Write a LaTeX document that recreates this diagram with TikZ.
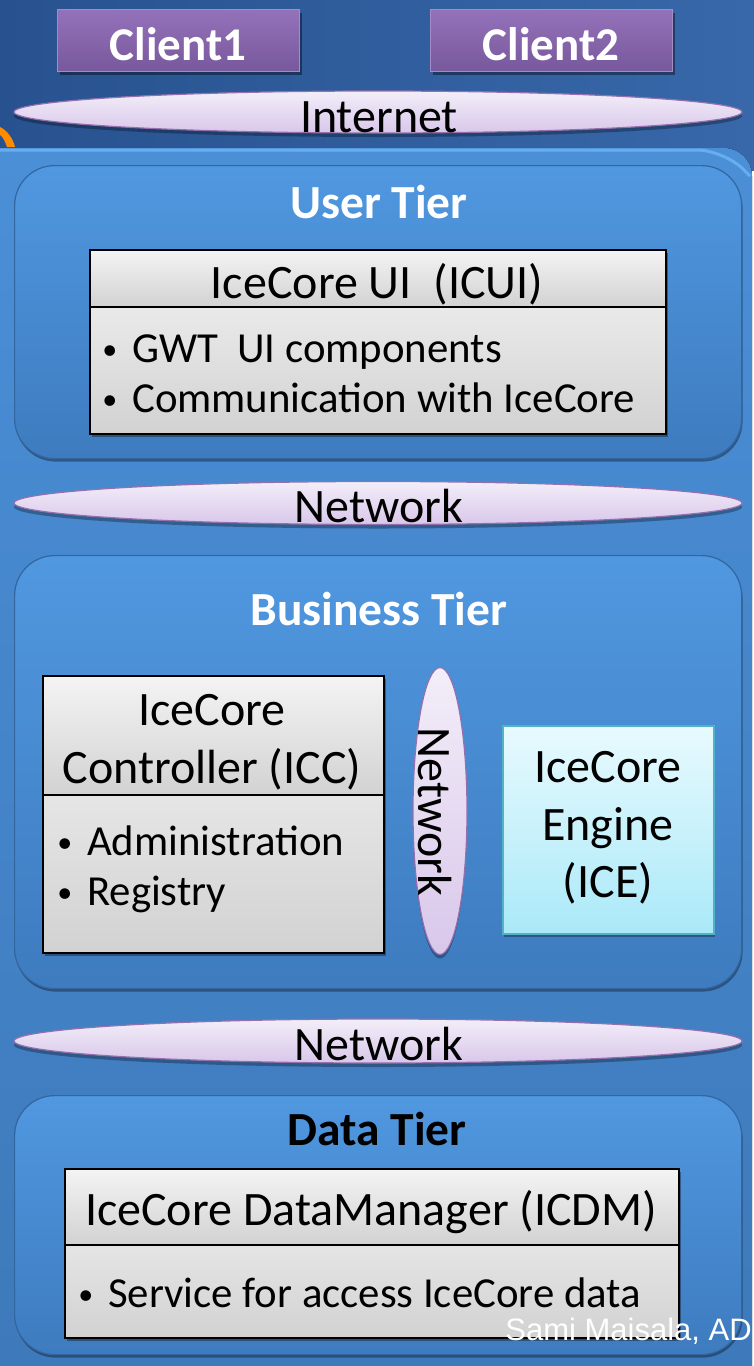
\documentclass[tikz,border=0pt]{standalone}
\usepackage{fontspec}
\setmainfont{Carlito}
\newfontfamily\arialf{Liberation Sans}
\usetikzlibrary{shapes.geometric,shadows}
\definecolor{bgdark}{HTML}{28528F}
\definecolor{bgdark2}{HTML}{3868AA}
\definecolor{outertop}{HTML}{4B8FD7}
\definecolor{outerbot}{HTML}{3D79BA}
\definecolor{outerhi}{HTML}{66AEF0}
\definecolor{tiertop}{HTML}{5098E0}
\definecolor{tierbot}{HTML}{3E7BBF}
\definecolor{tieredge}{HTML}{33669F}
\definecolor{lavtop}{HTML}{F3EEF9}
\definecolor{lavbot}{HTML}{D9C7EA}
\definecolor{lavedge}{HTML}{9470AE}
\definecolor{purptop}{HTML}{9472BA}
\definecolor{purpbot}{HTML}{78589C}
\definecolor{purpedge}{HTML}{A58AC8}
\definecolor{greytop}{HTML}{F4F4F4}
\definecolor{greybot}{HTML}{D2D2D2}
\definecolor{cyantop}{HTML}{E8FAFE}
\definecolor{cyanbot}{HTML}{AAE9F8}
\definecolor{cyanedge}{HTML}{52B2C8}
\newcommand\bl{\llap{\raisebox{3pt}{\fontsize{30}{30}\selectfont\textbullet}\hspace{15pt}}}
\tikzset{
  tier/.style={draw=tieredge, line width=1.2pt, rounded corners=40pt, top color=tiertop, bottom color=tierbot, inner sep=0pt, anchor=north west,
    drop shadow={shadow xshift=1pt, shadow yshift=-3pt, opacity=0.35, fill=black}},
  tiertitle/.style={font=\bfseries\fontsize{47.5}{50}\selectfont, text=white, anchor=base, inner sep=0pt},
  client/.style={draw=purpedge, line width=1pt, top color=purptop, bottom color=purpbot, inner sep=0pt, anchor=north west,
    drop shadow={shadow xshift=2pt, shadow yshift=-3pt, opacity=0.4, fill=black}},
  clienttext/.style={font=\bfseries\fontsize{47}{50}\selectfont, text=white, anchor=base, inner sep=0pt},
  lav/.style={ellipse, draw=lavedge, line width=1.2pt, top color=lavtop, bottom color=lavbot, inner sep=0pt,
    drop shadow={shadow xshift=0pt, shadow yshift=-4pt, opacity=0.3, fill=black}},
  greybox/.style={draw=black, line width=1.5pt, top color=greytop, bottom color=greybot, inner sep=0pt, anchor=north west,
    drop shadow={shadow xshift=2pt, shadow yshift=-3pt, opacity=0.35, fill=black}},
  greyhead/.style={draw=black, line width=1.5pt, top color=greytop, bottom color=greybot, inner sep=0pt, anchor=north west},
  icebox/.style={draw=cyanedge, line width=1.5pt, top color=cyantop, bottom color=cyanbot, inner sep=0pt, anchor=north west,
    drop shadow={shadow xshift=1pt, shadow yshift=-3pt, opacity=0.3, fill=black}},
  headtext/.style={font=\fontsize{48}{50}\selectfont, anchor=base, inner sep=0pt},
  bodytext/.style={font=\fontsize{42.8}{50}\selectfont, anchor=base west, inner sep=0pt},
}
\begin{document}
\begin{tikzpicture}[x=1pt,y=-1pt]
\useasboundingbox (0,0) rectangle (754,1366);
% background
\fill[left color=bgdark, right color=bgdark2] (0,0) rectangle (754,170);
\fill[orange!90!yellow] (0,127) .. controls (8,131) and (13,139) .. (15,147) -- (7,147) .. controls (5,141) and (3,137) .. (0,135) -- cycle;
\fill[top color=outertop, bottom color=outerbot, rounded corners=28pt] (-30,148) rectangle (752,1400);
\draw[outerhi, line width=3pt, rounded corners=27pt] (-30,150) -- (724,150) -- (750,176);
% clients
\node[client, minimum width=242pt, minimum height=62pt] (c1) at (57,9) {};
\node[clienttext] (c1t) at (178,60) {Client1};
\node[client, minimum width=242pt, minimum height=62pt] (c2) at (430,9) {};
\node[clienttext] (c2t) at (551,60) {Client2};
% internet
\node[lav, minimum width=728pt, minimum height=42pt] (inet) at (378,112) {};
\node[headtext] (inett) at (379,132) {Internet};
% user tier
\node[tier, minimum width=727pt, minimum height=293pt] (user) at (14,165) {};
\node[tiertitle] (usert) at (379,218) {User Tier};
\node[greybox, minimum width=576pt, minimum height=184pt] (icui) at (89,249) {};
\node[greyhead, minimum width=576pt, minimum height=57pt] (icuih) at (89,249) {};
\node[headtext] (icuiht) at (377,298) {IceCore UI\ \ (ICUI)};
\node[bodytext] (icuib1) at (132,362) {\bl GWT\ \ UI components};
\node[bodytext] (icuib2) at (132,412) {\bl Communication with IceCore};
% network 1
\node[lav, minimum width=728pt, minimum height=43pt] (net1) at (378,503) {};
\node[headtext] (net1t) at (379,522) {Network};
% business tier
\node[tier, minimum width=727pt, minimum height=433pt] (biz) at (14,555) {};
\node[tiertitle] (bizt) at (379,625) {Business Tier};
\node[greybox, minimum width=341pt, minimum height=277pt] (icc) at (42,675) {};
\node[greyhead, minimum width=341pt, minimum height=119pt] (icch) at (42,675) {};
\node[headtext] (icct1) at (212,725) {IceCore};
\node[headtext] (icct2) at (212,783) {Controller (ICC)};
\node[bodytext] (iccb1) at (87,855) {\bl Administration};
\node[bodytext] (iccb2) at (87,905) {\bl Registry};
\node[lav, minimum width=54pt, minimum height=287pt] (vnet) at (440,811) {};
\node[headtext, rotate=-90] (vnett) at (418,812) {Network};
\node[icebox, minimum width=211pt, minimum height=208pt] (ice) at (502,725) {};
\node[headtext] (icet1) at (608,782) {IceCore};
\node[headtext] (icet2) at (608,840) {Engine};
\node[headtext] (icet3) at (608,897) {(ICE)};
% network 2
\node[lav, minimum width=728pt, minimum height=44pt] (net2) at (378,1041) {};
\node[headtext] (net2t) at (379,1060) {Network};
% data tier
\node[tier, minimum width=727pt, minimum height=259pt] (data) at (14,1095) {};
\node[tiertitle, text=black] (datat) at (377,1145) {Data Tier};
\node[greybox, minimum width=614pt, minimum height=169pt] (icdm) at (64,1168) {};
\node[greyhead, minimum width=614pt, minimum height=76pt] (icdmh) at (64,1168) {};
\node[headtext] (icdmt) at (371,1225) {IceCore DataManager (ICDM)};
\node[bodytext] (icdmb) at (108,1307) {\bl Service for access IceCore data};
\node[font=\arialf\fontsize{31}{36}\selectfont, text=white, anchor=base east, inner sep=0pt] (credit) at (752,1340) {Sami Maisala, AD};
\end{tikzpicture}
\end{document}
